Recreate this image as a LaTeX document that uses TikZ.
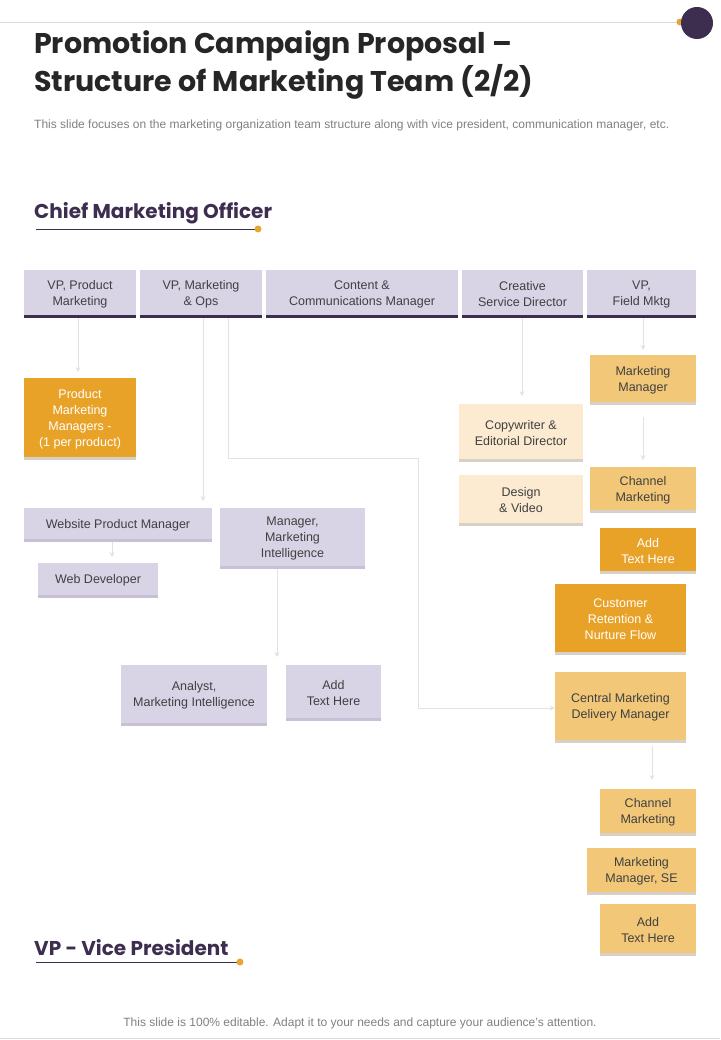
\documentclass[tikz,border=0pt]{standalone}
\usepackage{fontspec}
\setmainfont{Liberation Sans}
\newfontfamily\titlefont{Poppins}
\usetikzlibrary{arrows.meta,positioning}
\definecolor{plum}{HTML}{3D2E50}
\definecolor{lilac}{HTML}{D9D3E6}
\definecolor{lilacdk}{HTML}{C8C0D6}
\definecolor{amber}{HTML}{E9A228}
\definecolor{amberdk}{HTML}{D6D0C8}
\definecolor{sand}{HTML}{F2C878}
\definecolor{cream}{HTML}{FCEBD0}
\definecolor{gold}{HTML}{E8A530}
\definecolor{wire}{HTML}{E2E2E2}
\tikzset{
  box/.style={inner sep=2pt,align=center,font=\fontsize{12.5}{16}\selectfont,text=black!75},
  lilacbox/.style={box,fill=lilac},
  amberbox/.style={box,fill=amber,text=white},
  sandbox/.style={box,fill=sand},
  creambox/.style={box,fill=cream},
  link/.style={draw=wire,line width=0.8pt,-{Stealth[length=5pt,width=5pt]}},
}
% box from corners: name, style, x1, y1, x2, y2, shadow colour, text
\newcommand\orgbox[8]{%
  \node[#2,minimum width={#5-#3},minimum height={#6-#4}] (#1) at ({(#3+#5)/2},{(#4+#6)/2}) {#8};
  \fill[#7] (#1.south west) rectangle ([yshift=3.5pt]#1.south east);
}
\begin{document}
\begin{tikzpicture}[x=1pt,y=-1pt]
  \useasboundingbox (0,0) rectangle (720,1040);
  % header
  \draw[black!15,line width=0.8pt] (0,22) -- (690,22);
  \fill[gold] (680,22) circle (3.5);
  \fill[plum] (697,23) circle (16);
  \node[anchor=north west,inner sep=0,font=\titlefont\bfseries\fontsize{28.5}{38}\selectfont,text=black!85,align=left]
    (title) at (34,30) {Promotion Campaign Proposal –\\Structure of Marketing Team (2/2)};
  \node[anchor=base west,inner sep=0,font=\fontsize{12}{14}\selectfont,text=black!50]
    (sub) at (34,129) {This slide focuses on the marketing organization team structure along with vice president, communication manager, etc.};
  \node[anchor=base west,inner sep=0,font=\titlefont\bfseries\fontsize{20}{24}\selectfont,text=plum]
    (cmo) at (34,219) {Chief Marketing Officer};
  \draw[plum,line width=0.8pt] (36,229) -- (258,229);
  \fill[gold] (258,229) circle (3.5);
  \node[anchor=base west,inner sep=0,font=\titlefont\bfseries\fontsize{20}{24}\selectfont,text=plum]
    (vp) at (34,955) {VP - Vice President};
  \draw[plum,line width=0.8pt] (36,962) -- (240,962);
  \fill[gold] (240,962) circle (3.5);
  \node[font=\fontsize{12}{14}\selectfont,text=black!50] (foot) at (360,1023)
    {This slide is 100\% editable. Adapt it to your needs and capture your audience's attention.};
  \draw[black!15,line width=0.8pt] (0,1038) -- (720,1038);
  % top row
  \orgbox{vpprod}{lilacbox}{24}{270}{136}{318}{plum}{VP, Product\\Marketing}
  \orgbox{vpmkt}{lilacbox}{140}{270}{262}{318}{plum}{VP, Marketing\\\& Ops}
  \orgbox{content}{lilacbox}{266}{270}{458}{318}{plum}{Content \&\\Communications Manager}
  \orgbox{creative}{lilacbox}{462}{270}{583}{318}{plum}{Creative\\Service Director}
  \orgbox{vpfield}{lilacbox}{587}{270}{696}{318}{plum}{VP,\\Field Mktg}
  % left branch
  \orgbox{pmm}{amberbox}{24}{378}{136}{460}{amberdk}{Product\\Marketing\\Managers -\\(1 per product)}
  \orgbox{wpm}{lilacbox}{24}{508}{212}{542}{lilacdk}{Website Product Manager}
  \orgbox{webdev}{lilacbox}{38}{563}{158}{598}{lilacdk}{Web Developer}
  \orgbox{mmi}{lilacbox}{220}{508}{365}{569}{lilacdk}{Manager,\\Marketing\\Intelligence}
  \orgbox{analyst}{lilacbox}{121}{665}{267}{726}{lilacdk}{Analyst,\\Marketing Intelligence}
  \orgbox{addl}{lilacbox}{286}{665}{381}{721}{lilacdk}{Add\\Text Here}
  % creative branch
  \orgbox{copy}{creambox}{459}{404}{583}{462}{amberdk}{Copywriter \&\\Editorial Director}
  \orgbox{design}{creambox}{459}{475}{583}{526}{amberdk}{Design\\\& Video}
  % field branch
  \orgbox{mktmgr}{sandbox}{590}{355}{696}{405}{amberdk}{Marketing\\Manager}
  \orgbox{chan}{sandbox}{590}{467}{696}{513}{amberdk}{Channel\\Marketing}
  \orgbox{addr}{amberbox}{600}{528}{696}{574}{amberdk}{Add\\Text Here}
  \orgbox{retain}{amberbox}{555}{584}{686}{655}{amberdk}{Customer\\Retention \&\\Nurture Flow}
  \orgbox{central}{sandbox}{555}{672}{686}{743}{amberdk}{Central Marketing\\Delivery Manager}
  \orgbox{chanb}{sandbox}{600}{789}{696}{836}{amberdk}{Channel\\Marketing}
  \orgbox{mmse}{sandbox}{587}{848}{696}{895}{amberdk}{Marketing\\Manager, SE}
  \orgbox{adds}{sandbox}{600}{904}{696}{956}{amberdk}{Add\\Text Here}
  % connectors
  \draw[link] (vpprod.south -| 78,0) -- (78,372);
  \draw[link] (vpmkt.south -| 203,0) -- (203,501);
  \draw[link] (vpmkt.south -| 228,0) -- (228,458) -- (418,458) -- (418,708) -- (central.west |- 0,708);
  \draw[link] (wpm.south -| 112,0) -- (112,557);
  \draw[link] (mmi.south -| 277,0) -- (277,657);
  \draw[link] (creative.south -| 522,0) -- (522,396);
  \draw[link] (vpfield.south -| 643,0) -- (643,350);
  \draw[link] (mktmgr.south -| 643,0) ++(0,12) -- (643,460);
  \draw[link] (central.south -| 652,0) ++(0,3) -- (652,780);
\end{tikzpicture}
\end{document}
